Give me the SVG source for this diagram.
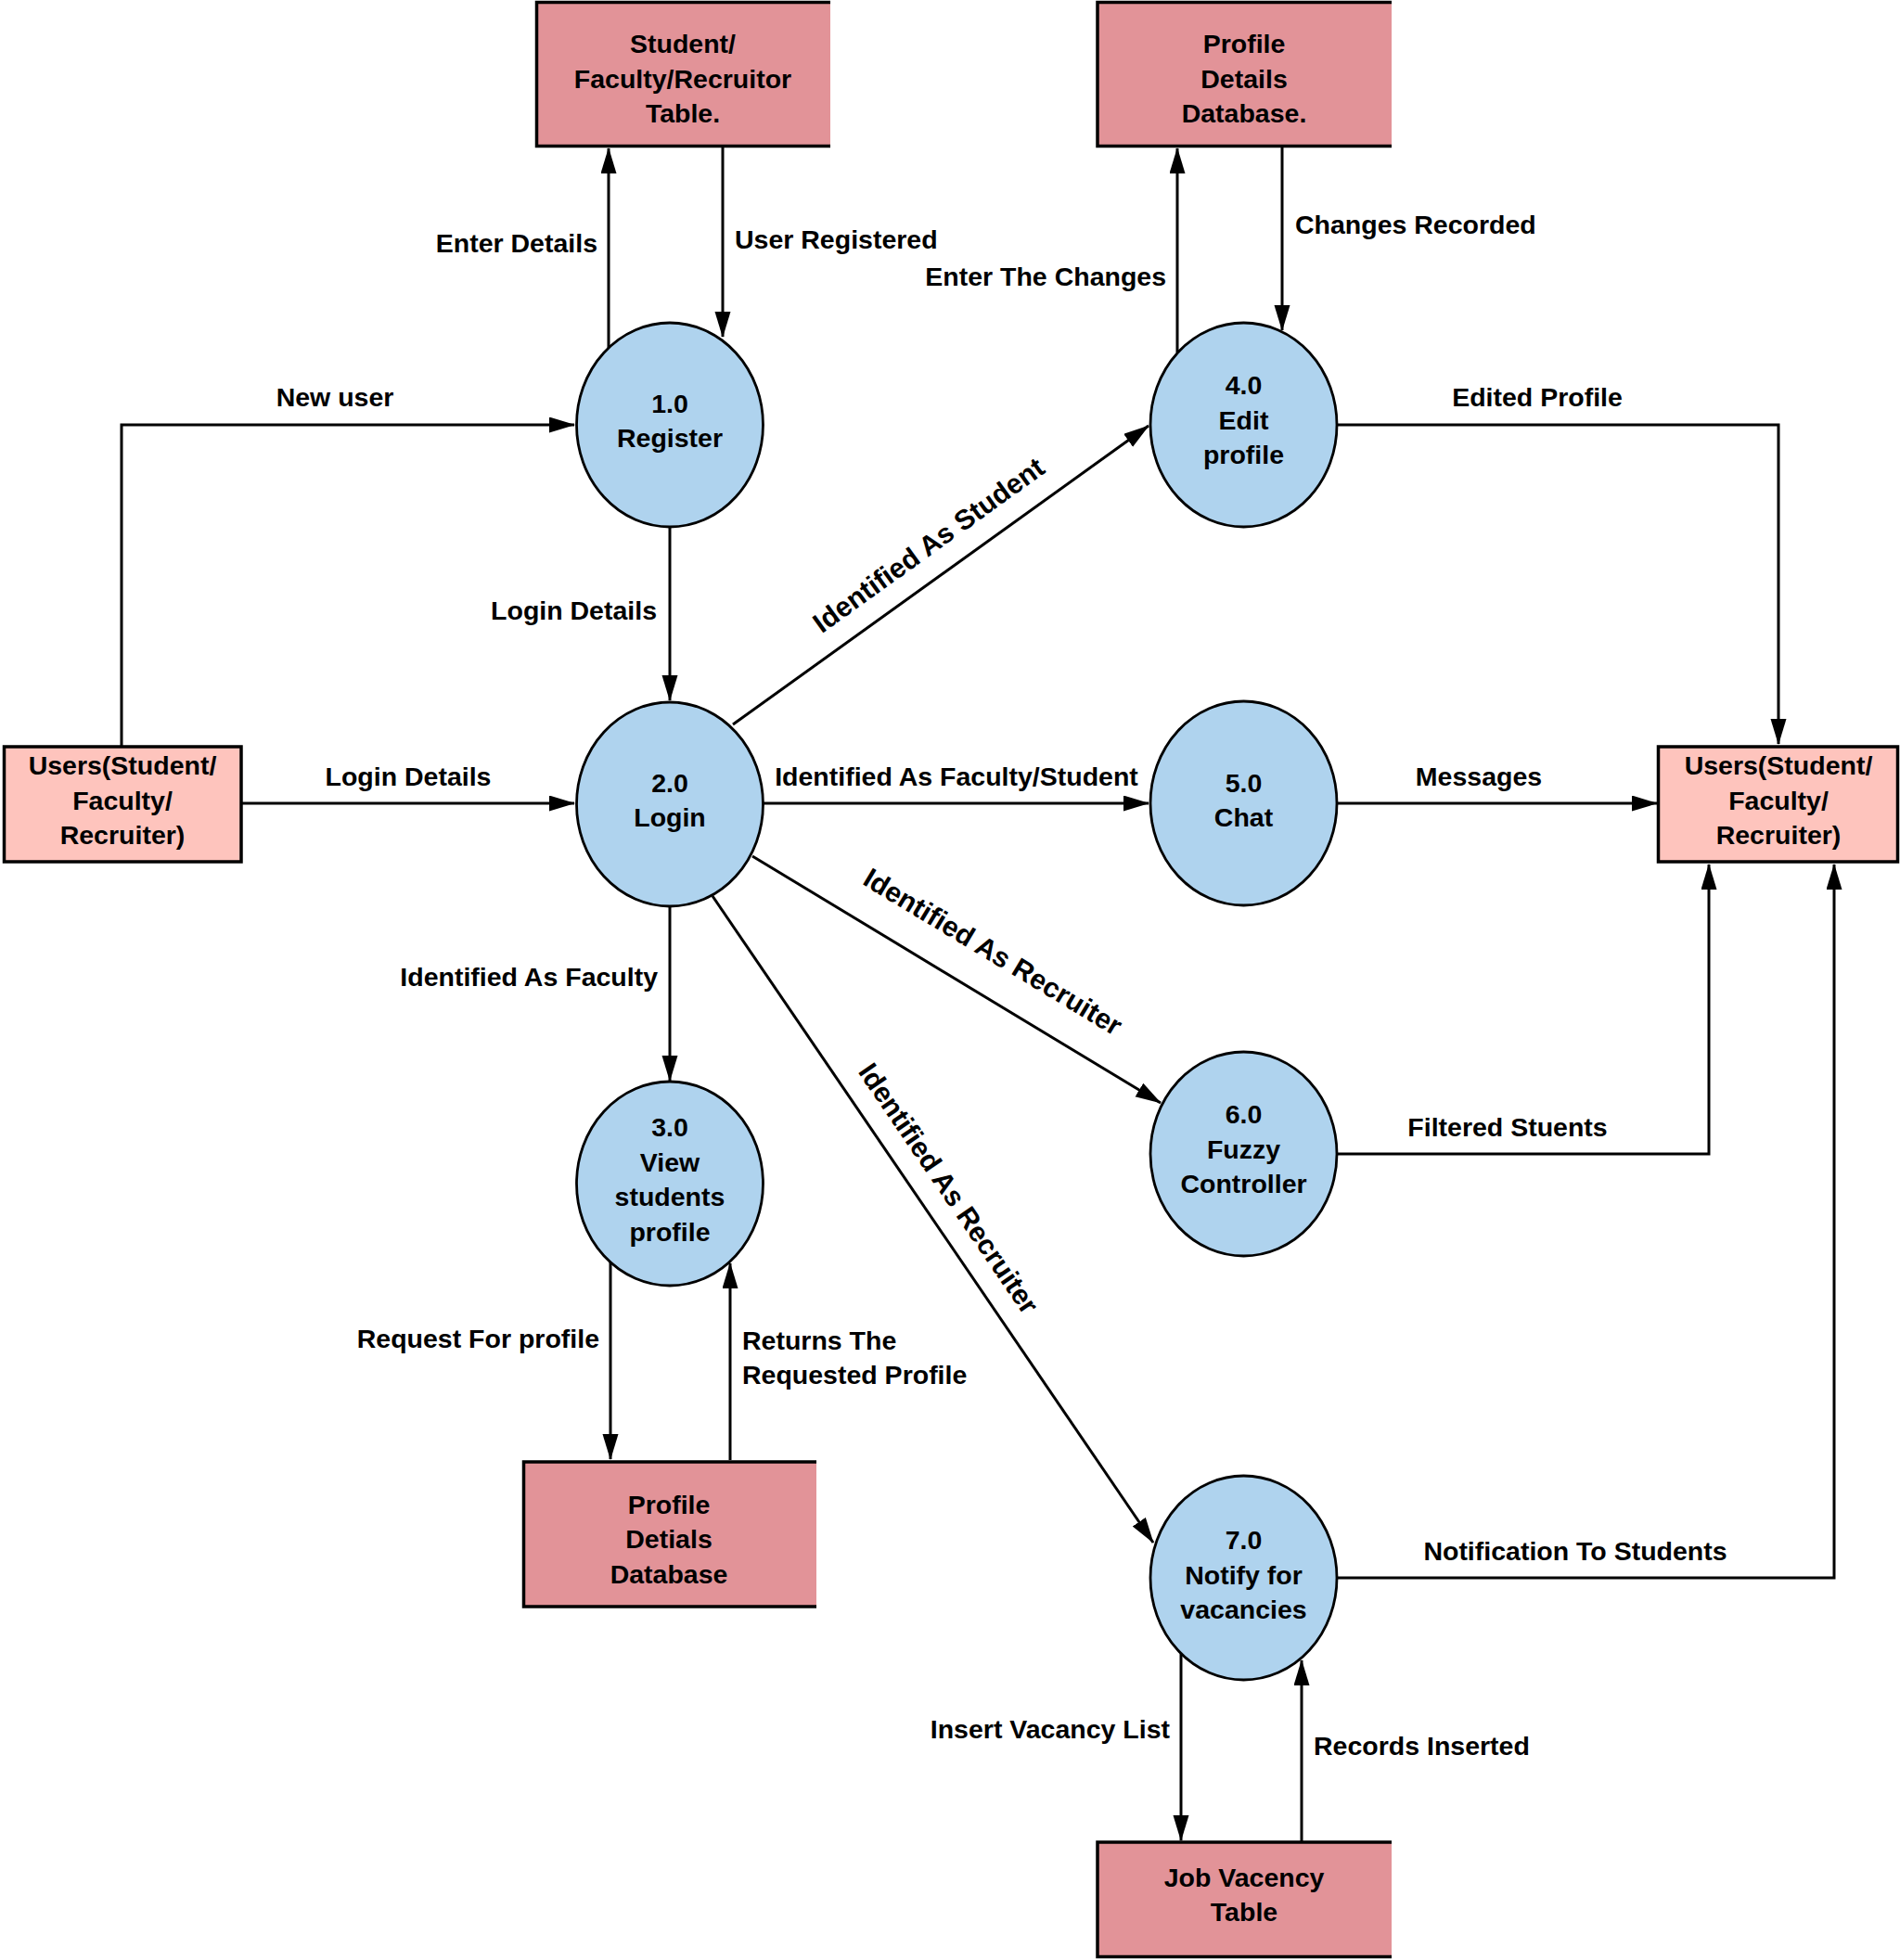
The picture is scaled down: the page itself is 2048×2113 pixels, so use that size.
<svg xmlns="http://www.w3.org/2000/svg" width="2048" height="2113" viewBox="0 0 2048 2113">
<style>
  text { font-family: "Liberation Sans", Arial, sans-serif; font-weight: bold; font-size: 28.5px; fill: #000; }
  .c { text-anchor: middle; }
  .e { text-anchor: end; }
  .rot { font-size: 30px; }
  .proc { fill: #AFD3EE; stroke: #000; stroke-width: 2.8; }
  .store { fill: #E29398; stroke: none; }
  .storeEdge { fill: none; stroke: #000; stroke-width: 3.5; }
  .ext { fill: #FEC4BD; stroke: #000; stroke-width: 3.5; }
  .flow { fill: none; stroke: #000; stroke-width: 3; marker-end: url(#arr); }
</style>
<defs>
  <marker id="arr" markerUnits="userSpaceOnUse" markerWidth="28" markerHeight="18" refX="27" refY="8.5" orient="auto">
    <path d="M0,0 L28,8.5 L0,17 z" fill="#000"/>
  </marker>
</defs>
<rect width="2048" height="2113" fill="#fff"/>

<g id="connectors">
  <polyline class="flow" points="131,805 131,458 619,458"/>
  <line class="flow" x1="260" y1="866" x2="619" y2="866"/>
  <line class="flow" x1="722" y1="568" x2="722" y2="755"/>
  <line class="flow" x1="656" y1="375" x2="656" y2="160"/>
  <line class="flow" x1="779" y1="159" x2="779" y2="363"/>
  <line class="flow" x1="1269" y1="380" x2="1269" y2="160"/>
  <line class="flow" x1="1382" y1="159" x2="1382" y2="356"/>
  <line class="flow" x1="790" y1="781" x2="1238" y2="459"/>
  <line class="flow" x1="822" y1="866" x2="1238" y2="866"/>
  <line class="flow" x1="811" y1="923" x2="1251" y2="1189"/>
  <line class="flow" x1="768" y1="966" x2="1243" y2="1663"/>
  <line class="flow" x1="722" y1="977" x2="722" y2="1165"/>
  <line class="flow" x1="658" y1="1361" x2="658" y2="1573"/>
  <line class="flow" x1="787" y1="1574" x2="787" y2="1362"/>
  <polyline class="flow" points="1441,458 1917,458 1917,802"/>
  <line class="flow" x1="1441" y1="866" x2="1786" y2="866"/>
  <polyline class="flow" points="1441,1244 1842,1244 1842,932"/>
  <polyline class="flow" points="1441,1701 1977,1701 1977,932"/>
  <line class="flow" x1="1273" y1="1782" x2="1273" y2="1984"/>
  <line class="flow" x1="1403" y1="1986" x2="1403" y2="1790"/>

  <text class="c" x="361" y="438">New user</text>
  <text class="c" x="440" y="847">Login Details</text>
  <text class="e" x="708" y="668">Login Details</text>
  <text class="e" x="644" y="272">Enter Details</text>
  <text x="792" y="268">User Registered</text>
  <text class="e" x="1257" y="308">Enter The Changes</text>
  <text x="1396" y="252">Changes Recorded</text>
  <text class="c rot" transform="translate(1007,596) rotate(-35.8)">Identified As Student</text>
  <text class="c" x="1031" y="847">Identified As Faculty/Student</text>
  <text class="c rot" transform="translate(1065,1035) rotate(31.1)">Identified As Recruiter</text>
  <text class="c rot" transform="translate(1014,1287) rotate(55.7)">Identified As Recruiter</text>
  <text class="e" x="709" y="1063">Identified As Faculty</text>
  <text class="e" x="646" y="1453">Request For profile</text>
  <text x="800" y="1455">Returns The</text>
  <text x="800" y="1492">Requested Profile</text>
  <text class="c" x="1657" y="438">Edited Profile</text>
  <text class="c" x="1594" y="847">Messages</text>
  <text class="c" x="1625" y="1225">Filtered Stuents</text>
  <text class="c" x="1698" y="1682">Notification To Students</text>
  <text class="e" x="1261" y="1874">Insert Vacancy List</text>
  <text x="1416" y="1892">Records Inserted</text>
</g>

<g id="store-user-table">
  <rect class="store" x="578.5" y="2.5" width="316.5" height="155"/>
  <path class="storeEdge" d="M895,2.5 H578.5 V157.5 H895"/>
  <text class="c" x="736" y="57">Student/</text>
  <text class="c" x="736" y="95">Faculty/Recruitor</text>
  <text class="c" x="736" y="132">Table.</text>
</g>

<g id="store-profile-details">
  <rect class="store" x="1183" y="2.5" width="317" height="155"/>
  <path class="storeEdge" d="M1500,2.5 H1183 V157.5 H1500"/>
  <text class="c" x="1341" y="57">Profile</text>
  <text class="c" x="1341" y="95">Details</text>
  <text class="c" x="1341" y="132">Database.</text>
</g>

<g id="store-profile-detials">
  <rect class="store" x="564.5" y="1576" width="315.5" height="156"/>
  <path class="storeEdge" d="M880,1576 H564.5 V1732 H880"/>
  <text class="c" x="721" y="1632">Profile</text>
  <text class="c" x="721" y="1669">Detials</text>
  <text class="c" x="721" y="1707">Database</text>
</g>

<g id="store-job-vacancy">
  <rect class="store" x="1183" y="1986" width="317" height="123.5"/>
  <path class="storeEdge" d="M1500,1986 H1183 V2109.5 H1500"/>
  <text class="c" x="1341" y="2034">Job Vacency</text>
  <text class="c" x="1341" y="2071">Table</text>
</g>

<g id="users-left">
  <rect class="ext" x="4.5" y="805" width="255.5" height="124"/>
  <text class="c" x="132" y="835">Users(Student/</text>
  <text class="c" x="132" y="873">Faculty/</text>
  <text class="c" x="132" y="910">Recruiter)</text>
</g>

<g id="users-right">
  <rect class="ext" x="1787.5" y="805" width="258" height="124"/>
  <text class="c" x="1917" y="835">Users(Student/</text>
  <text class="c" x="1917" y="873">Faculty/</text>
  <text class="c" x="1917" y="910">Recruiter)</text>
</g>

<g id="p1-register">
  <ellipse class="proc" cx="722" cy="458" rx="100.5" ry="110"/>
  <text class="c" x="722" y="445">1.0</text>
  <text class="c" x="722" y="482">Register</text>
</g>

<g id="p2-login">
  <ellipse class="proc" cx="722" cy="867" rx="100.5" ry="110"/>
  <text class="c" x="722" y="854">2.0</text>
  <text class="c" x="722" y="891">Login</text>
</g>

<g id="p3-view">
  <ellipse class="proc" cx="722" cy="1276" rx="100.5" ry="110"/>
  <text class="c" x="722" y="1225">3.0</text>
  <text class="c" x="722" y="1263">View</text>
  <text class="c" x="722" y="1300">students</text>
  <text class="c" x="722" y="1338">profile</text>
</g>

<g id="p4-edit">
  <ellipse class="proc" cx="1340.5" cy="458" rx="100.5" ry="110"/>
  <text class="c" x="1340.5" y="425">4.0</text>
  <text class="c" x="1340.5" y="463">Edit</text>
  <text class="c" x="1340.5" y="500">profile</text>
</g>

<g id="p5-chat">
  <ellipse class="proc" cx="1340.5" cy="866" rx="100.5" ry="110"/>
  <text class="c" x="1340.5" y="854">5.0</text>
  <text class="c" x="1340.5" y="891">Chat</text>
</g>

<g id="p6-fuzzy">
  <ellipse class="proc" cx="1340.5" cy="1244" rx="100.5" ry="110"/>
  <text class="c" x="1340.5" y="1211">6.0</text>
  <text class="c" x="1340.5" y="1249">Fuzzy</text>
  <text class="c" x="1340.5" y="1286">Controller</text>
</g>

<g id="p7-notify">
  <ellipse class="proc" cx="1340.5" cy="1701" rx="100.5" ry="110"/>
  <text class="c" x="1340.5" y="1670">7.0</text>
  <text class="c" x="1340.5" y="1708">Notify for</text>
  <text class="c" x="1340.5" y="1745">vacancies</text>
</g>
</svg>
